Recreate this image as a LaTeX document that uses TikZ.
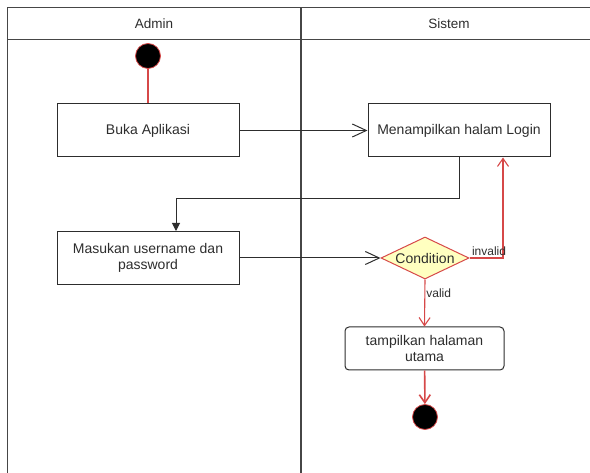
\documentclass[tikz,border=0pt]{standalone}
\usepackage{fontspec}
\setmainfont{Liberation Sans}
\usetikzlibrary{arrows.meta,shapes.geometric}
\definecolor{flowred}{RGB}{214,72,72}
\definecolor{decfill}{RGB}{255,255,192}
\definecolor{ink}{RGB}{45,45,45}
\definecolor{laneline}{RGB}{70,70,70}
\begin{document}
\begin{tikzpicture}[x=1pt,y=-1pt,
  every node/.style={text=ink},
  lbl/.style={font=\fontsize{14}{16.5}\selectfont},
  head/.style={font=\fontsize{13.5}{16}\selectfont},
  small/.style={font=\fontsize{12}{14}\selectfont, inner sep=1pt},
  lane/.style={draw=laneline, line width=1pt},
  action/.style={draw=ink, line width=1pt, minimum width=182pt,
    minimum height=53pt, align=center, inner sep=2pt, lbl},
  roundaction/.style={action, rounded corners=4pt, minimum width=159pt,
    minimum height=43pt},
  decision/.style={diamond, draw=flowred, fill=decfill, line width=1pt,
    aspect=2.1, inner sep=0.5pt, minimum width=88pt, minimum height=42pt, lbl},
  dot/.style={circle, fill=black, draw=flowred, line width=0.8pt,
    minimum size=25pt, inner sep=0pt},
  blackflow/.style={draw=ink, line width=1pt},
  redflow/.style={draw=flowred, line width=1.1pt},
  bigbarb/.style={-{Straight Barb[length=14pt,width=13pt]}},
  redbarb/.style={-{Straight Barb[length=8pt,width=11pt]}},
]
\useasboundingbox (0,0) rectangle (590,473);
\clip (0,0) rectangle (590,473);

% swimlane frame
\draw[lane] (7,8) -- (600,8);
\draw[lane] (7,40) -- (600,40);
\draw[lane] (7,8) -- (7,480);
\draw[lane, line width=1.6pt] (301,8) -- (301,480);
\node[head] (hAdmin) at (154,24) {Admin};
\node[head] (hSistem) at (449,24) {Sistem};

% activities
\node[dot] (start) at (148,56) {};
\node[action] (buka) at (148,130.5) {Buka Aplikasi};
\node[action] (login) at (459,130.5) {Menampilkan halam Login};
\node[action] (masuk) at (148,258) {Masukan username dan\\password};
\node[decision] (cond) at (425,258) {Condition};
\node[roundaction] (home) at (424.5,348.5) {tampilkan halaman\\utama};
\node[dot] (end) at (425,417) {};

% flows
\draw[redflow] (start) -- (buka);
\draw[blackflow, bigbarb] (buka) -- (login);
\coordinate (bend) at (176,199);
\draw[blackflow, -{Triangle[length=8pt,width=8pt]}]
  (login.south) |- (bend) -- (bend |- masuk.north);
\draw[blackflow, bigbarb] (masuk) -- (cond);
\draw[redflow, redbarb] (cond.east) -| ([xshift=44pt]login.south)
  node[small, pos=0, anchor=south west, xshift=1pt, yshift=1pt] {invalid};
\draw[redflow, redbarb] (cond.south) -- (home.north)
  node[small, pos=0.3, right] {valid};
\draw[redflow, line width=1.6pt, redbarb] (home) -- (end);
\end{tikzpicture}
\end{document}
